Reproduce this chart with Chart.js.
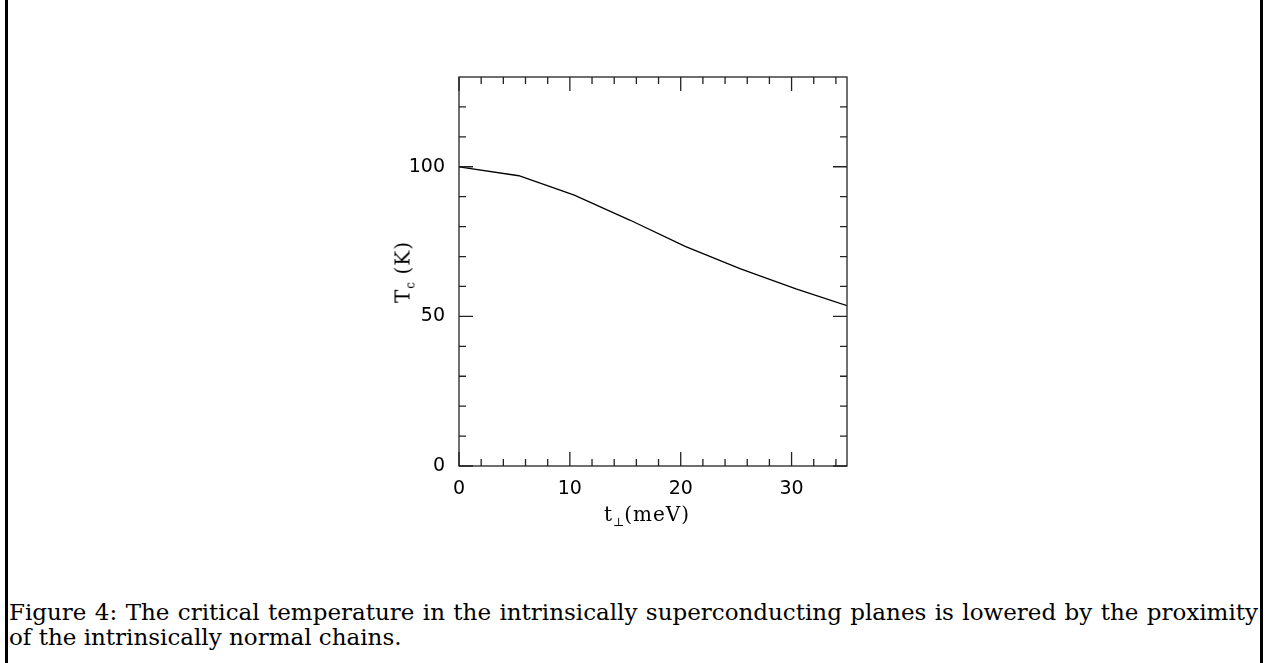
<!DOCTYPE html>
<html>
<head>
<meta charset="utf-8">
<script src="https://cdn.jsdelivr.net/npm/chart.js@4/dist/chart.umd.min.js"></script>
<style>
    body { margin: 0; width: 1270px; height: 663px; background: #fff; position: relative; overflow: hidden; }
    .rule { position: absolute; top: 0; width: 3px; height: 663px; background: #000; }
    #plot { position: absolute; left: 380px; top: 60px; width: 480px; height: 480px; }
    .ttl { position: absolute; font-family: "DejaVu Serif", serif; font-size: 20px; color: #000; white-space: nowrap; letter-spacing: 1px; }
    .ttl sub { font-size: 12px; vertical-align: -5px; letter-spacing: 0; }
    #xTitle { left: 647px; top: 515px; transform: translate(-50%, -50%); }
    #yTitle { left: 404px; top: 272px; transform: translate(-50%, -50%) rotate(-90deg); }
    .cap { position: absolute; left: 9px; width: 1249px; font-family: "DejaVu Serif", serif; font-size: 23px; color: #000; white-space: nowrap; }
    #cap1 { top: 599px; text-align: justify; text-align-last: justify; white-space: normal; }
    #cap2 { top: 624px; }
</style>
</head>
<body>
<div class="rule" style="left:5px"></div>
<div class="rule" style="left:1260px"></div>
<div id="plot"><canvas id="myChart"></canvas></div>
<div class="ttl" id="xTitle">t<sub>&perp;</sub>(meV)</div>
<div class="ttl" id="yTitle">T<sub>c</sub> (K)</div>
<div class="cap" id="cap1">Figure 4: The critical temperature in the intrinsically superconducting planes is lowered by the proximity</div>
<div class="cap" id="cap2">of the intrinsically normal chains.</div>
<script>
// t_perp (meV) and Tc (K)
const tPerp = [0, 5.4, 10.4, 15.4, 20.4, 25.4, 30.4, 35];
const tc = [100, 97.0, 90.5, 82.2, 73.4, 65.9, 59.2, 53.6];

const xLabels = [0, 10, 20, 30];
const yLabels = [0, 50, 100];
const xMinor = [2, 4, 6, 8, 12, 14, 16, 18, 22, 24, 26, 28, 32, 34];
const yMinor = [10, 20, 30, 40, 60, 70, 80, 90, 110, 120];

// frame and inward ticks, like the old plotting package
const frameTicks = {
    id: 'frameTicks',
    afterDatasetsDraw(chart) {
        const { ctx, chartArea: a, scales } = chart;
        const xs = scales.x, ys = scales.y;
        ctx.save();
        ctx.strokeStyle = '#222';
        ctx.lineWidth = 1.3;
        ctx.strokeRect(a.left, a.top, a.right - a.left, a.bottom - a.top);
        ctx.beginPath();
        const xt = (vals, len) => vals.forEach(v => {
            const px = xs.getPixelForValue(v);
            ctx.moveTo(px, a.bottom); ctx.lineTo(px, a.bottom - len);
            ctx.moveTo(px, a.top); ctx.lineTo(px, a.top + len);
        });
        const yt = (vals, len) => vals.forEach(v => {
            const py = ys.getPixelForValue(v);
            ctx.moveTo(a.left, py); ctx.lineTo(a.left + len, py);
            ctx.moveTo(a.right, py); ctx.lineTo(a.right - len, py);
        });
        xt(xMinor, 7);
        xt(xLabels, 14);
        yt(yMinor, 7);
        yt(yLabels, 14);
        ctx.stroke();
        ctx.restore();
    }
};

const ctx = document.getElementById('myChart').getContext('2d');
const myChart = new Chart(ctx, {
    type: 'line',
    data: {
        datasets: [{
            data: tPerp.map((t, i) => ({ x: t, y: tc[i] })),
            borderColor: '#000',
            borderWidth: 1.3,
            pointRadius: 0,
            tension: 0,
            fill: false
        }]
    },
    options: {
        responsive: true,
        maintainAspectRatio: false,
        animation: false,
        layout: { padding: { top: 17, right: 13, left: 0, bottom: 0 } },
        plugins: {
            legend: { display: false },
            tooltip: { enabled: false }
        },
        scales: {
            x: {
                type: 'linear',
                min: 0,
                max: 35,
                grid: { display: false },
                border: { display: false },
                afterBuildTicks: s => { s.ticks = xLabels.map(v => ({ value: v })); },
                afterFit: s => { s.height = 74; s.paddingLeft = 0; s.paddingRight = 0; },
                ticks: {
                    color: '#000',
                    padding: 4,
                    maxRotation: 0,
                    font: { family: 'DejaVu Sans', size: 19 }
                }
            },
            y: {
                min: 0,
                max: 130,
                grid: { display: false },
                border: { display: false },
                afterBuildTicks: s => { s.ticks = yLabels.map(v => ({ value: v })); },
                afterFit: s => { s.width = 79; s.paddingTop = 0; s.paddingBottom = 0; },
                ticks: {
                    color: '#000',
                    padding: 6,
                    font: { family: 'DejaVu Sans', size: 19 }
                }
            }
        }
    },
    plugins: [frameTicks]
});
</script>
</body>
</html>
